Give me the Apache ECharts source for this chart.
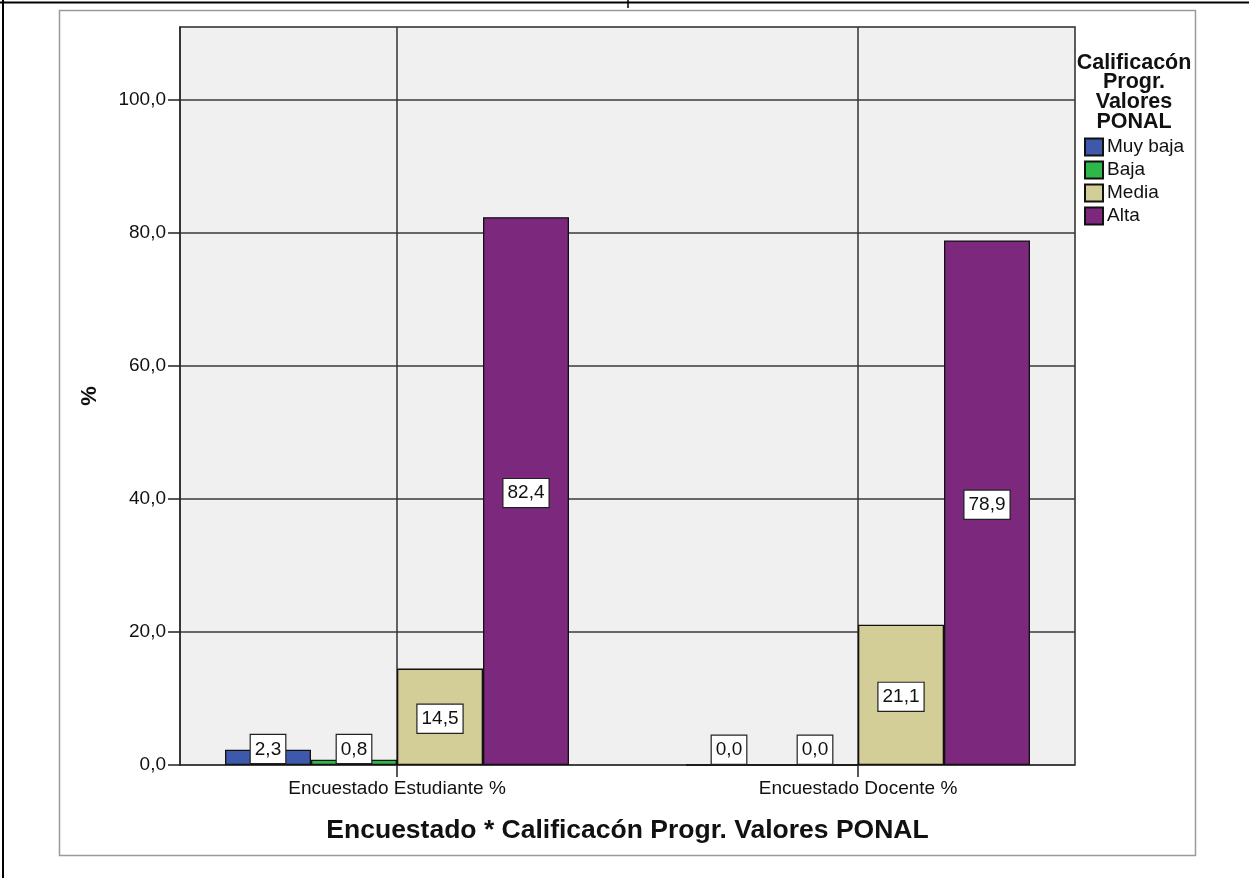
<!DOCTYPE html>
<html><head><meta charset="utf-8">
<script src="https://cdn.jsdelivr.net/npm/echarts@6/dist/echarts.min.js"></script>
<style>html,body{margin:0;padding:0;background:#fff}#c{width:1249px;height:878px}</style>
</head><body><div id="c"></div>
<script>
const categories = ['Encuestado Estudiante %', 'Encuestado Docente %'];
const seriesNames = ['Muy baja', 'Baja', 'Media', 'Alta'];
const muyBaja = [2.3, 0.0];
const baja = [0.8, 0.0];
const media = [14.5, 21.1];
const alta = [82.4, 78.9];
const yTicks = [0, 20, 40, 60, 80, 100];
const xTitle = 'Encuestado * Calificacón Progr. Valores PONAL';
const yTitle = '%';
const legendTitle = 'Calificacón\nProgr.\nValores\nPONAL';

const colors = ['#3e58ac', '#2eb848', '#d3ce97', '#7c287d'];
const FONT = "'Liberation Sans', Arial, sans-serif";
const fmt = v => Number(v).toFixed(1).replace('.', ',');

const chart = echarts.init(document.getElementById('c'), null, {renderer: 'canvas'});
const seriesValues = [muyBaja, baja, media, alta];

const option = {
  backgroundColor: '#fff',
  animation: false,
  textStyle: {fontFamily: FONT},
  grid: [
    {left: 166.5, top: 27, width: 922, height: 738, show: false},
    {left: 180, top: 27, width: 895, height: 738, show: true, z: -1,
     backgroundColor: '#f0f0f0', borderColor: '#2a2a2a', borderWidth: 1.5}
  ],
  xAxis: [
    {type: 'category', gridIndex: 0, data: categories,
     axisLine: {show: false},
     axisTick: {show: true, alignWithLabel: true, length: 12, lineStyle: {color: '#222', width: 1.5}},
     axisLabel: {color: '#111', fontSize: 19, margin: 14, fontFamily: FONT},
     splitLine: {show: true, alignWithLabel: true, lineStyle: {color: '#333', width: 1.5}},
     name: xTitle, nameLocation: 'middle', nameGap: 52,
     nameTextStyle: {fontSize: 26.5, fontWeight: 'bold', color: '#111', fontFamily: FONT}},
    {type: 'value', gridIndex: 1, min: 0, max: 1, show: false}
  ],
  yAxis: [
    {type: 'value', gridIndex: 0, min: 0, max: 111, show: false},
    {type: 'value', gridIndex: 1, min: 0, max: 111, interval: 20,
     axisLine: {show: true, lineStyle: {color: '#2a2a2a', width: 1.5}},
     axisTick: {show: true, length: 12, customValues: yTicks, lineStyle: {color: '#222', width: 1.5}},
     axisLabel: {customValues: yTicks, formatter: v => fmt(v), color: '#111', fontSize: 19, margin: 14, fontFamily: FONT},
     splitLine: {show: true, lineStyle: {color: '#3a3a3a', width: 1.5}},
     name: yTitle, nameLocation: 'middle', nameRotate: 90, nameGap: 79,
     nameTextStyle: {fontSize: 22, fontWeight: 'bold', color: '#111', fontFamily: FONT}}
  ],
  legend: {
    orient: 'vertical', left: 1084, top: 137, padding: 0, itemWidth: 18, itemHeight: 17, itemGap: 3,
    selectedMode: false, icon: 'rect',
    textStyle: {fontSize: 19, color: '#111', lineHeight: 20, padding: [0, 0, 0, -1], fontFamily: FONT},
    data: seriesNames
  },
  graphic: [
    {type: 'rect', z: -10, shape: {x: 59.5, y: 10.5, width: 1136, height: 845},
     style: {fill: 'none', stroke: '#9a9a9a', lineWidth: 1.5}},
    {type: 'line', shape: {x1: 0, y1: 2.5, x2: 1249, y2: 2.5}, style: {stroke: '#000', lineWidth: 2}},
    {type: 'line', shape: {x1: 3, y1: 0, x2: 3, y2: 878}, style: {stroke: '#000', lineWidth: 2}},
    {type: 'line', shape: {x1: 628, y1: 0, x2: 628, y2: 8}, style: {stroke: '#000', lineWidth: 1.5}},
    {type: 'text', x: 1134, y: 53, style: {text: legendTitle, textAlign: 'center', textVerticalAlign: 'top',
      font: "bold 21.5px 'Liberation Sans', Arial, sans-serif", lineHeight: 19.7, fill: '#111'}}
  ],
  series: seriesValues.map((vals, i) => ({
    type: 'bar', name: seriesNames[i], xAxisIndex: 0, yAxisIndex: 0,
    barWidth: 86, barGap: '0%',
    itemStyle: {color: colors[i], borderColor: '#111', borderWidth: 1.3},
    label: {show: true, formatter: p => fmt(p.value), color: '#111', fontSize: 19, fontFamily: FONT,
      backgroundColor: '#fff', borderColor: '#222', borderWidth: 1.2, padding: [5, 4, 4, 4]},
    data: vals.map(v => ({value: v, label: v < 5 ? {position: 'insideBottom', distance: 2} : {position: 'inside', offset: [0, 2]}}))
  }))
};
chart.setOption(option);
</script></body></html>
